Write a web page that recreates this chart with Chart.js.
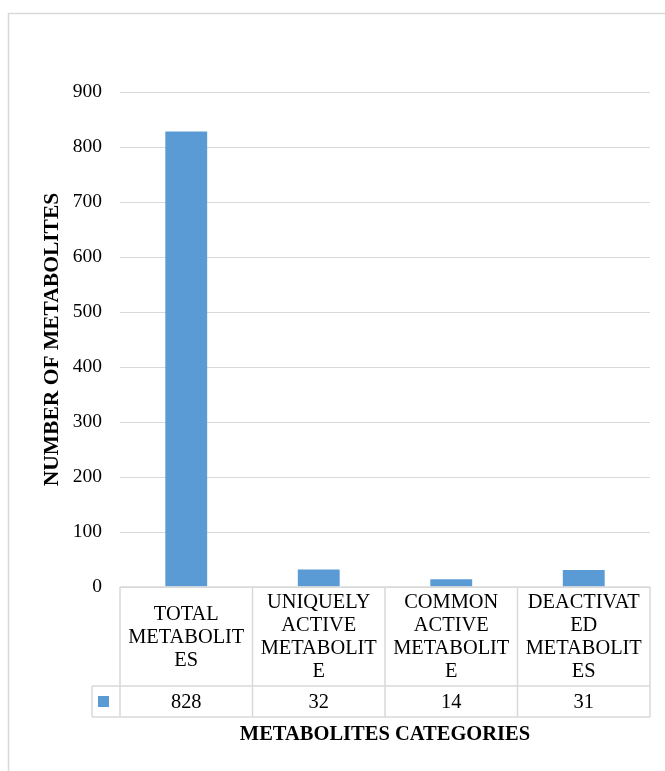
<!DOCTYPE html>
<html>
<head>
<meta charset="utf-8">
<script src="https://cdn.jsdelivr.net/npm/chart.js@4/dist/chart.umd.min.js"></script>
<style>
html,body{margin:0;padding:0;background:#fff;}
#wrap{width:665px;height:771px;position:relative;}
canvas{display:block;}
</style>
</head>
<body>
<div id="wrap"><canvas id="c" width="665" height="771"></canvas></div>
<script>
// ---- data ----
const categories = [
  ["TOTAL", "METABOLIT", "ES"],
  ["UNIQUELY", "ACTIVE", "METABOLIT", "E"],
  ["COMMON", "ACTIVE", "METABOLIT", "E"],
  ["DEACTIVAT", "ED", "METABOLIT", "ES"]
];
const values = [828, 32, 14, 31];
const yTickValues = [0, 100, 200, 300, 400, 500, 600, 700, 800, 900];
const yTitle = "NUMBER OF METABOLITES";
const xTitle = "METABOLITES CATEGORIES";

const BAR = '#5b9bd5';
const GRID = '#d9d9d9';
const FONT = '"Liberation Serif", "Times New Roman", serif';

const frame = {
  id: 'frame',
  beforeDraw(chart) {
    const ctx = chart.ctx;
    ctx.save();
    ctx.fillStyle = '#fff';
    ctx.fillRect(0, 0, chart.width, chart.height);
    ctx.strokeStyle = GRID;
    ctx.lineWidth = 1.5;
    ctx.strokeRect(8.5, 13.5, chart.width + 20, chart.height + 20);
    ctx.restore();
  }
};

const dataTable = {
  id: 'dataTable',
  afterDraw(chart) {
    const ctx = chart.ctx;
    const a = chart.chartArea;
    const x = chart.scales.x;
    const catTop = a.bottom;
    const catH = 99;
    const valTop = catTop + catH;
    const valH = 31;
    const valBottom = valTop + valH;
    const legendLeft = a.left - 28;
    const colW = a.width / categories.length;

    ctx.save();
    ctx.strokeStyle = GRID;
    ctx.lineWidth = 1.5;
    ctx.beginPath();
    ctx.moveTo(a.left, catTop); ctx.lineTo(a.right, catTop);
    ctx.moveTo(legendLeft, valTop); ctx.lineTo(a.right, valTop);
    ctx.moveTo(legendLeft, valBottom); ctx.lineTo(a.right, valBottom);
    ctx.moveTo(legendLeft, valTop); ctx.lineTo(legendLeft, valBottom);
    for (let i = 0; i <= categories.length; i++) {
      const px = a.left + i * colW;
      ctx.moveTo(px, catTop); ctx.lineTo(px, valBottom);
    }
    ctx.stroke();

    ctx.fillStyle = BAR;
    ctx.fillRect(legendLeft + 6, valTop + 10, 11, 11);

    ctx.fillStyle = '#000';
    ctx.font = '20.4px ' + FONT;
    ctx.textAlign = 'center';
    ctx.textBaseline = 'middle';
    const lh = 23;
    categories.forEach((lines, i) => {
      const cx = x.getPixelForValue(i);
      const cy = catTop + catH / 2;
      const start = cy - (lines.length - 1) * lh / 2;
      lines.forEach((t, j) => ctx.fillText(t, cx, start + j * lh + 1));
      ctx.fillText(String(values[i]), cx, valTop + valH / 2 + 1);
    });
    ctx.restore();
  }
};

new Chart(document.getElementById('c'), {
  type: 'bar',
  data: {
    labels: categories,
    datasets: [{
      data: values,
      backgroundColor: BAR,
      borderWidth: 0,
      categoryPercentage: 1,
      barPercentage: 0.316
    }]
  },
  options: {
    responsive: false,
    animation: false,
    devicePixelRatio: 1,
    layout: { padding: { left: 40, right: 15, top: 92, bottom: 24 } },
    plugins: { legend: { display: false }, tooltip: { enabled: false } },
    scales: {
      x: {
        grid: { display: false },
        border: { display: false },
        ticks: { display: false },
        afterFit(scale) { scale.height = 160; },
        title: {
          display: true,
          text: xTitle,
          color: '#000',
          font: { family: FONT, size: 20.5, weight: 'bold' },
          padding: { top: 0, bottom: 0 }
        }
      },
      y: {
        min: 0,
        max: 900,
        afterBuildTicks(scale) { scale.ticks = yTickValues.map(v => ({ value: v })); },
        afterFit(scale) { scale.width = 80; },
        grid: { color: GRID, lineWidth: 1, drawTicks: false },
        border: { display: false },
        ticks: {
          color: '#000',
          padding: 18,
          font: { family: FONT, size: 19.5 }
        },
        title: {
          display: true,
          text: yTitle,
          color: '#000',
          font: { family: FONT, size: 21.5, weight: 'bold' },
          padding: { top: 0, bottom: 0 }
        }
      }
    }
  },
  plugins: [frame, dataTable]
});
</script>
</body>
</html>
